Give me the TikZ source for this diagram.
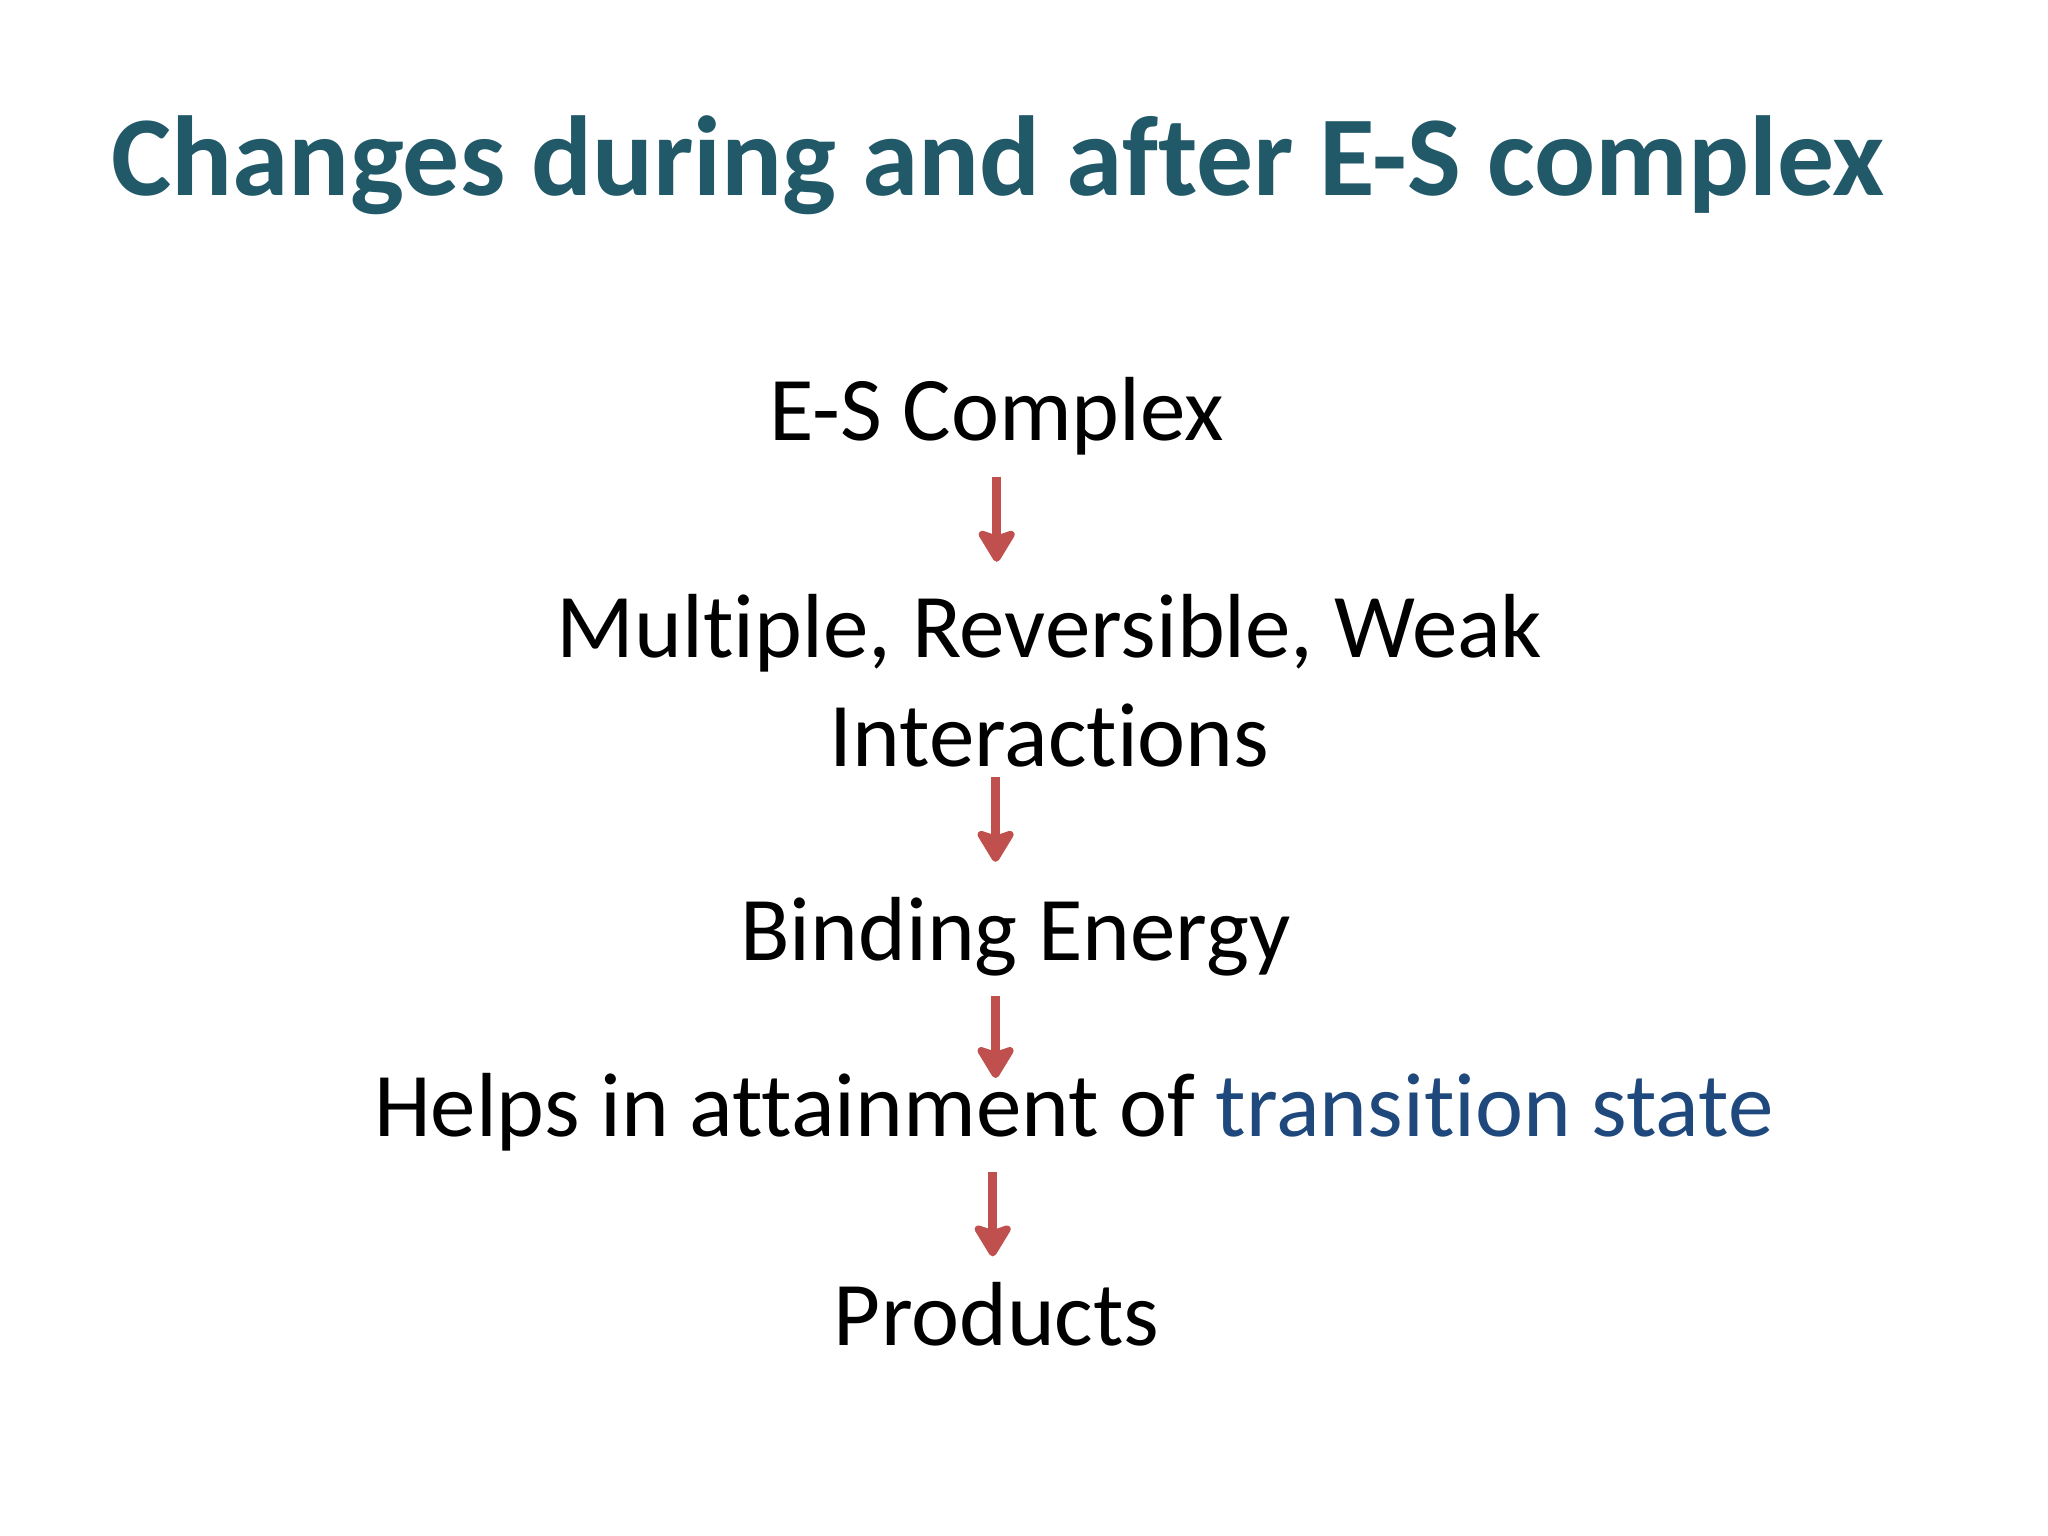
\documentclass[tikz,border=0pt]{standalone}
\usepackage{fontspec}
\setmainfont[Ligatures=NoCommon]{Carlito}
\usetikzlibrary{arrows.meta}
\definecolor{titlecol}{HTML}{215968}
\definecolor{arrcol}{HTML}{C0504D}
\definecolor{tscol}{HTML}{1F497D}
\tikzset{
  body/.style={font=\fontsize{32}{38.4}\selectfont, inner sep=0pt, anchor=base, align=center, text=black},
  ttl/.style={font=\fontsize{40}{48}\selectfont\bfseries, inner sep=0pt, anchor=base west, text=titlecol},
  arr/.style={draw=arrcol, line width=3.3pt, -{Stealth[length=13pt, width=15.5pt, inset=2.5pt, round]}}
}
\begin{document}
\begin{tikzpicture}[x=1pt,y=1pt]
\useasboundingbox (0,0) rectangle (720,-540);
\fill[white] (0,0) rectangle (720,-540);
\node[ttl] (title) at (39,-68.9) {Changes during and after E-S complex};
\node[body] (es) at (350.4,-155) {E-S Complex};
\node[body] (mr) at (369,-269.6) {Multiple, Reversible, Weak\\Interactions};
\node[body] (be) at (357,-337.5) {Binding Energy};
\node[body] (hp) at (377.5,-399.5) {Helps in attainment of \textcolor{tscol}{transition state}};
\node[body] (pr) at (350.4,-473) {Products};
\draw[arr] ([yshift=-12.6pt]es.base) -- ([yshift=-42.5pt]es.base);
\draw[arr] ([xshift=-19pt,yshift=-3.4pt]mr.base) -- ([xshift=-19pt,yshift=-33.4pt]mr.base);
\draw[arr] ([xshift=-7pt,yshift=-12.5pt]be.base) -- ([xshift=-7pt,yshift=-41.5pt]be.base);
\draw[arr] ([xshift=-28.5pt,yshift=-12.5pt]hp.base) -- ([xshift=-28.5pt,yshift=-42.2pt]hp.base);
\end{tikzpicture}
\end{document}
